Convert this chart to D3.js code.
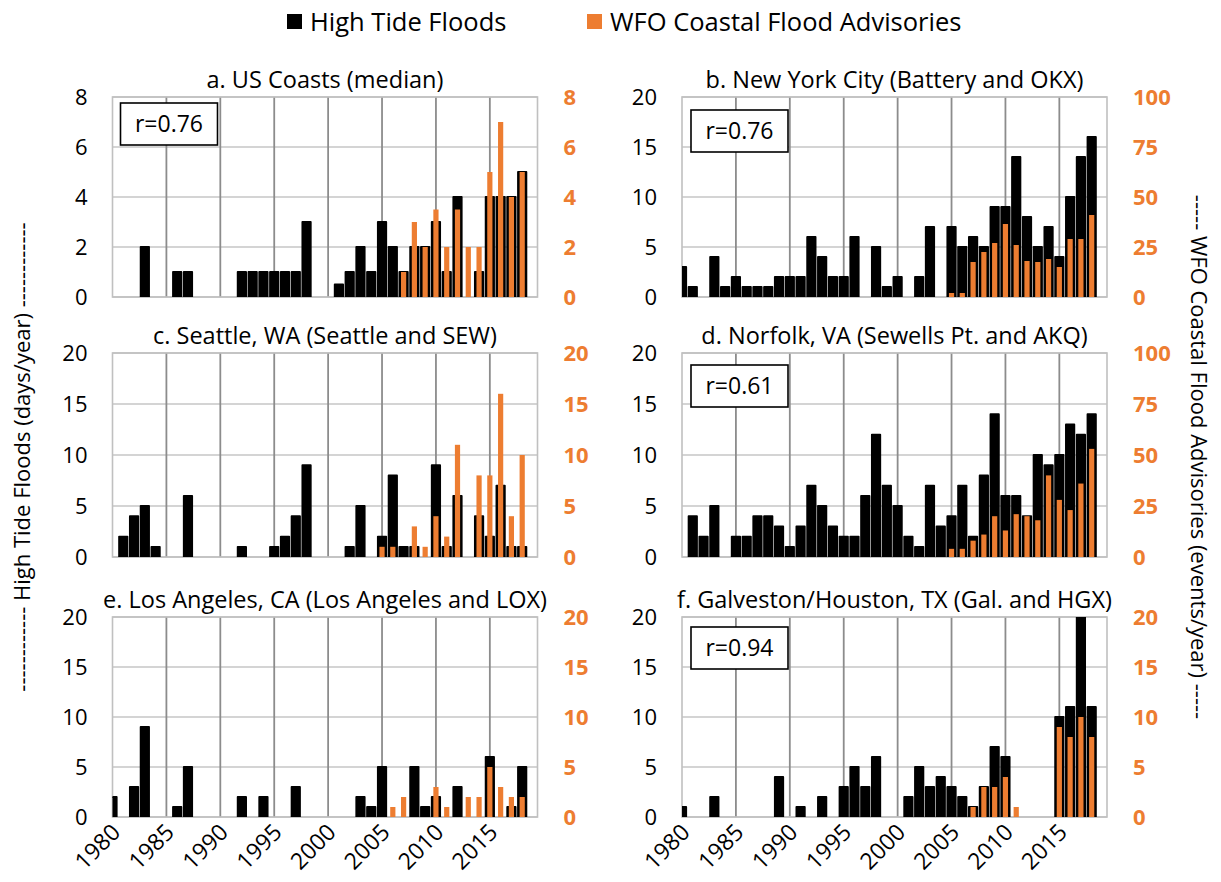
<!DOCTYPE html>
<html><head><meta charset="utf-8">
<script src="https://cdn.jsdelivr.net/npm/d3@7"></script>
<style>body{margin:0;background:#fff} text{font-family:'Open Sans',sans-serif}</style>
</head><body><svg id="c" width="1221" height="882"></svg>
<script>
// ---------- data ----------
const years = [1980,1981,1982,1983,1984,1985,1986,1987,1988,1989,
               1990,1991,1992,1993,1994,1995,1996,1997,1998,1999,
               2000,2001,2002,2003,2004,2005,2006,2007,2008,2009,
               2010,2011,2012,2013,2014,2015,2016,2017,2018];
const xTickYears = [1980,1985,1990,1995,2000,2005,2010,2015];

const usBlack  = [0,0,0,2,0,0,1,1,0,0, 0,0,1,1,1,1,1,1,3,0, 0,0.5,1,2,1,3,2,1,2,2, 3,1,4,0,1,4,4,4,5];
const usOrange = [0,0,0,0,0,0,0,0,0,0, 0,0,0,0,0,0,0,0,0,0, 0,0,0,0,0,0,0,1,3,2, 3.5,2,3.5,2,2,5,7,4,5];

const nycBlack  = [3,1,0,4,1,2,1,1,1,2, 2,2,6,4,2,2,6,0,5,1, 2,0,2,7,0,7,5,6,5,9, 9,14,8,5,7,4,10,14,16];
const nycOrange = [0,0,0,0,0,0,0,0,0,0, 0,0,0,0,0,0,0,0,0,0, 0,0,0,0,0,2,2,17.5,22.5,27, 36.5,26,18,17.5,19,15,29,29,41];

const seaBlack  = [0,2,4,5,1,0,0,6,0,0, 0,0,1,0,0,1,2,4,9,0, 0,0,1,5,0,2,8,1,1,0, 9,1,6,0,4,2,7,1,1];
const seaOrange = [0,0,0,0,0,0,0,0,0,0, 0,0,0,0,0,0,0,0,0,0, 0,0,0,0,0,1,1,0,3,1, 4,2,11,0,8,8,16,4,10];

const norBlack  = [0,4,2,5,0,2,2,4,4,3, 1,3,7,5,3,2,2,6,12,7, 5,2,1,7,3,4,7,2,8,14, 6,6,4,10,9,10,13,12,14];
const norOrange = [0,0,0,0,0,0,0,0,0,0, 0,0,0,0,0,0,0,0,0,0, 0,0,0,0,0,4,4,8,11,20, 13,21,20,18,40,28,23,36,53];

const laBlack  = [2,0,3,9,0,0,1,5,0,0, 0,0,2,0,2,0,0,3,0,0, 0,0,0,2,1,5,0,0,5,1, 2,0,3,0,0,6,0,1,5];
const laOrange = [0,0,0,0,0,0,0,0,0,0, 0,0,0,0,0,0,0,0,0,0, 0,0,0,0,0,0,1,2,0,0, 3,1,0,2,2,5,3,2,2];

const galBlack  = [1,0,0,2,0,0,0,0,0,4, 0,1,0,2,0,3,5,3,6,0, 0,2,5,3,4,3,2,1,3,7, 6,0,0,0,0,10,11,22,11];
const galOrange = [0,0,0,0,0,0,0,0,0,0, 0,0,0,0,0,0,0,0,0,0, 0,0,0,0,0,0,0,1,3,3, 4,1,0,0,0,9,8,10,8];

const titles = ["a. US Coasts (median)", "b. New York City (Battery and OKX)",
  "c. Seattle, WA (Seattle and SEW)", "d. Norfolk, VA (Sewells Pt. and AKQ)",
  "e. Los Angeles, CA (Los Angeles and LOX)", "f. Galveston/Houston, TX (Gal. and HGX)"];
const leftTicks  = [[0,2,4,6,8],[0,5,10,15,20],[0,5,10,15,20],[0,5,10,15,20],[0,5,10,15,20],[0,5,10,15,20]];
const rightTicks = [[0,2,4,6,8],[0,25,50,75,100],[0,5,10,15,20],[0,25,50,75,100],[0,5,10,15,20],[0,5,10,15,20]];
const rLabels = ["r=0.76","r=0.76",null,"r=0.61",null,"r=0.94"];
const blackSeries  = [usBlack, nycBlack, seaBlack, norBlack, laBlack, galBlack];
const orangeSeries = [usOrange, nycOrange, seaOrange, norOrange, laOrange, galOrange];
const legendLabels = ["High Tide Floods", "WFO Coastal Flood Advisories"];
const leftTitle  = "------------ High Tide Floods (days/year) ------------";
const rightTitle = "----- WFO Coastal Flood Advisories (events/year) -----";

// ---------- layout ----------
const ORANGE = "#ED7D31";
const PW = 425;
const colX = [112.5, 682];
const rowY = [97, 353, 617];
const rowH = [200, 204, 200];
const rBox = [[8,6],[9,13],null,[9,12],null,[9,10]];

const svg = d3.select("#c");
svg.append("rect").attr("width",1221).attr("height",882).attr("fill","#fff");

const x = d3.scaleLinear().domain([1980, 2019.42]).range([0, PW]);

titles.forEach((t, i) => {
  const col = i % 2, row = Math.floor(i / 2);
  const H = rowH[row];
  const g = svg.append("g").attr("transform", `translate(${colX[col]},${rowY[row]})`);
  const yL = d3.scaleLinear().domain([0, d3.max(leftTicks[i])]).range([H, 0]);
  const yR = d3.scaleLinear().domain([0, d3.max(rightTicks[i])]).range([H, 0]);

  const clipId = "clip" + i;
  g.append("clipPath").attr("id", clipId).append("rect").attr("width", PW).attr("height", H);

  g.append("g").selectAll("line").data(leftTicks[i]).join("line")
    .attr("x1", 0).attr("x2", PW).attr("y1", d => yL(d)).attr("y2", d => yL(d))
    .attr("stroke", "#c6c6c6").attr("stroke-width", 1.6);
  g.append("g").selectAll("line").data(xTickYears.slice(1)).join("line")
    .attr("x1", d => x(d)).attr("x2", d => x(d)).attr("y1", 0).attr("y2", H)
    .attr("stroke", "#8c8c8c").attr("stroke-width", 1.8);
  g.append("rect").attr("width", PW).attr("height", H).attr("fill", "none")
    .attr("stroke", "#c0c0c0").attr("stroke-width", 1.6);

  const bars = g.append("g").attr("clip-path", `url(#${clipId})`);
  const bData = years.map((y, k) => ({y, v: blackSeries[i][k]})).filter(d => d.v > 0);
  bars.selectAll("rect.b").data(bData).join("rect").attr("class","b")
    .attr("x", d => x(d.y) - 4.2).attr("width", 8.4)
    .attr("y", d => yL(d.v)).attr("height", d => H - yL(d.v) + 2)
    .attr("fill", "#000").attr("stroke", "#000").attr("stroke-width", 1.8)
    .attr("stroke-linejoin", "round");
  const oData = years.map((y, k) => ({y, v: orangeSeries[i][k]})).filter(d => d.v > 0);
  bars.selectAll("rect.o").data(oData).join("rect").attr("class","o")
    .attr("x", d => x(d.y) - 2.6).attr("width", 5.2)
    .attr("y", d => yR(d.v)).attr("height", d => H - yR(d.v))
    .attr("fill", ORANGE);

  const aL = g.append("g").call(d3.axisLeft(yL).tickValues(leftTicks[i]).tickSize(0).tickPadding(25));
  aL.select(".domain").remove();
  aL.selectAll("text").attr("font-size", 22).attr("fill", "#000").attr("font-family", "'Open Sans',sans-serif");
  const aR = g.append("g").attr("transform", `translate(${PW},0)`)
    .call(d3.axisRight(yR).tickValues(rightTicks[i]).tickSize(0).tickPadding(26));
  aR.select(".domain").remove();
  aR.selectAll("text").attr("font-size", 22).attr("font-weight", "bold").attr("fill", ORANGE)
    .attr("font-family", "'Open Sans',sans-serif");

  if (row === 2) {
    const aB = g.append("g").attr("transform", `translate(0,${H})`)
      .call(d3.axisBottom(x).tickValues(xTickYears).tickFormat(d3.format("d")).tickSize(0));
    aB.select(".domain").remove();
    aB.selectAll("text").attr("font-size", 23).attr("fill", "#000")
      .attr("font-family", "'Open Sans',sans-serif")
      .attr("text-anchor", "end").attr("x", 0).attr("y", 0).attr("dy", "0.35em")
      .attr("transform", "translate(3,11) rotate(-45)");
  }

  g.append("text").attr("x", PW / 2).attr("y", -17).attr("dy", "0.35em")
    .attr("text-anchor", "middle").attr("font-size", 23.5).text(t);

  if (rLabels[i]) {
    const [bx, by] = rBox[i];
    g.append("rect").attr("x", bx).attr("y", by).attr("width", 97).attr("height", 42)
      .attr("fill", "#fff").attr("stroke", "#000").attr("stroke-width", 1.6);
    g.append("text").attr("x", bx + 48.5).attr("y", by + 21).attr("dy", "0.35em")
      .attr("text-anchor", "middle").attr("font-size", 23).text(rLabels[i]);
  }
});

// legend
const leg = svg.append("g");
const legX = [287, 587], legC = ["#000", ORANGE];
legendLabels.forEach((l, k) => {
  leg.append("rect").attr("x", legX[k]).attr("y", 14).attr("width", 15).attr("height", 15).attr("fill", legC[k]);
  leg.append("text").attr("x", legX[k] + 23).attr("y", 22).attr("dy", "0.35em")
    .attr("font-size", 25.5).text(l);
});

// axis titles
svg.append("text").attr("transform", "translate(22,457) rotate(-90)").attr("text-anchor", "middle")
  .attr("dy", "0.35em").attr("font-size", 22).text(leftTitle);
svg.append("text").attr("transform", "translate(1199,457) rotate(90)").attr("text-anchor", "middle")
  .attr("dy", "0.35em").attr("font-size", 22).text(rightTitle);
</script></body></html>
